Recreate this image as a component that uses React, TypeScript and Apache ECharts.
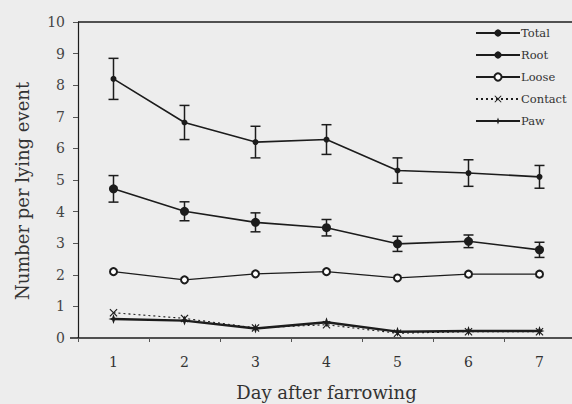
import React, { useEffect, useRef } from "react";
import * as echarts from "echarts";

const days = ["1", "2", "3", "4", "5", "6", "7"];
const yTicks = [0, 10];
const total = [8.2, 6.82, 6.2, 6.28, 5.3, 5.22, 5.1];
const totalErr = [0.65, 0.54, 0.5, 0.47, 0.4, 0.42, 0.36];
const root = [4.72, 4.01, 3.66, 3.49, 2.98, 3.06, 2.79];
const rootErr = [0.42, 0.3, 0.3, 0.26, 0.24, 0.2, 0.24];
const loose = [2.1, 1.84, 2.03, 2.1, 1.9, 2.02, 2.02];
const contact = [0.8, 0.62, 0.32, 0.42, 0.15, 0.2, 0.2];
const paw = [0.6, 0.55, 0.3, 0.5, 0.2, 0.22, 0.22];
const yTitle = "Number per lying event";
const xTitle = "Day after farrowing";

const INK = "#1c1c1c";
const FONT = "DejaVu Serif";

const errData = (vals: number[], errs: number[]) =>
  vals.map((v, i) => [i, v - errs[i], v + errs[i]]);

const errSeries = (vals: number[], errs: number[]) => ({
  type: "custom",
  silent: true,
  data: errData(vals, errs),
  encode: { x: 0, y: [1, 2] },
  z: 1,
  renderItem: (params: any, api: any) => {
    const x = api.value(0);
    const lo = api.coord([x, api.value(1)]);
    const hi = api.coord([x, api.value(2)]);
    const w = 5;
    const style = { stroke: INK, lineWidth: 1.5 };
    return {
      type: "group",
      children: [
        { type: "line", shape: { x1: lo[0], y1: lo[1], x2: hi[0], y2: hi[1] }, style },
        { type: "line", shape: { x1: lo[0] - w, y1: lo[1], x2: lo[0] + w, y2: lo[1] }, style },
        { type: "line", shape: { x1: hi[0] - w, y1: hi[1], x2: hi[0] + w, y2: hi[1] }, style },
      ],
    };
  },
});

const xPath = "path://M0,1L1,0L5,4L9,0L10,1L6,5L10,9L9,10L5,6L1,10L0,9L4,5Z";
const starPath = "path://M5,0L6.3,3.7L10,5L6.3,6.3L5,10L3.7,6.3L0,5L3.7,3.7Z";

export default function App() {
  const ref = useRef<HTMLDivElement>(null);
  useEffect(() => {
    if (!ref.current) return;
    const chart = echarts.init(ref.current, undefined, { renderer: "svg" });
    const lineBase = {
      type: "line",
      z: 3,
      itemStyle: { color: INK },
    };
    chart.setOption({
      animation: false,
      backgroundColor: "#ededed",
      textStyle: { fontFamily: FONT },
      grid: { left: 78, top: 22, width: 497, height: 316, outerBoundsMode: "none", containLabel: false },
      legend: {
        orient: "vertical",
        left: 470,
        top: 22,
        itemWidth: 44,
        itemHeight: 9,
        itemGap: 10,
        textStyle: { fontFamily: FONT, fontSize: 11.5, color: "#333", padding: [0, 0, 0, -4] },
        data: ["Total", "Root", "Loose", "Contact", "Paw"],
      },
      xAxis: {
        type: "category",
        data: days,
        boundaryGap: true,
        name: xTitle,
        nameLocation: "middle",
        nameGap: 45,
        nameTextStyle: { fontFamily: FONT, fontSize: 18, color: "#333" },
        axisLine: { onZero: false, lineStyle: { color: INK, width: 1.5 } },
        axisTick: { show: true, alignWithLabel: false, length: 4, lineStyle: { color: "#555" } },
        axisLabel: { fontFamily: FONT, fontSize: 14, color: "#333", margin: 17 },
      },
      yAxis: {
        type: "value",
        min: yTicks[0],
        max: yTicks[1],
        interval: 1,
        axisLine: { show: true, onZero: false, lineStyle: { color: INK, width: 1.2 } },
        axisTick: { show: true, length: 5, lineStyle: { color: "#555" } },
        axisLabel: { fontFamily: FONT, fontSize: 14, color: "#444", margin: 13 },
        splitLine: { show: false },
      },
      graphic: [
        {
          type: "line",
          shape: { x1: 70, y1: 338, x2: 78, y2: 338 },
          style: { stroke: INK, lineWidth: 1.5 },
        },
        {
          type: "line",
          shape: { x1: 78, y1: 22, x2: 572, y2: 22 },
          style: { stroke: INK, lineWidth: 1.6 },
        },
        {
          type: "text",
          x: 22,
          y: 191,
          rotation: Math.PI / 2,
          style: {
            text: yTitle,
            fontFamily: FONT,
            fontSize: 18,
            fill: "#333",
            align: "center",
            verticalAlign: "middle",
          },
        },
      ],
      series: [
        {
          ...lineBase,
          name: "Total",
          data: total,
          symbol: "circle",
          symbolSize: 6,
          lineStyle: { color: INK, width: 1.6 },
        },
        {
          ...lineBase,
          name: "Root",
          data: root,
          symbol: "circle",
          symbolSize: 9,
          lineStyle: { color: INK, width: 1.6 },
        },
        {
          ...lineBase,
          name: "Loose",
          data: loose,
          symbol: "emptyCircle",
          symbolSize: 7,
          itemStyle: { color: INK, borderWidth: 1.5 },
          lineStyle: { color: INK, width: 1.3 },
        },
        {
          ...lineBase,
          name: "Contact",
          data: contact,
          symbol: xPath,
          symbolSize: 8,
          lineStyle: { color: INK, width: 1.1, type: [2, 3] },
        },
        {
          ...lineBase,
          name: "Paw",
          data: paw,
          symbol: starPath,
          symbolSize: 10,
          lineStyle: { color: INK, width: 2.4 },
        },
        errSeries(total, totalErr),
        errSeries(root, rootErr),
      ],
    });
    return () => chart.dispose();
  }, []);
  return (
    <div
      ref={ref}
      style={{ position: "fixed", left: 0, top: 0, width: 572, height: 404 }}
    />
  );
}
